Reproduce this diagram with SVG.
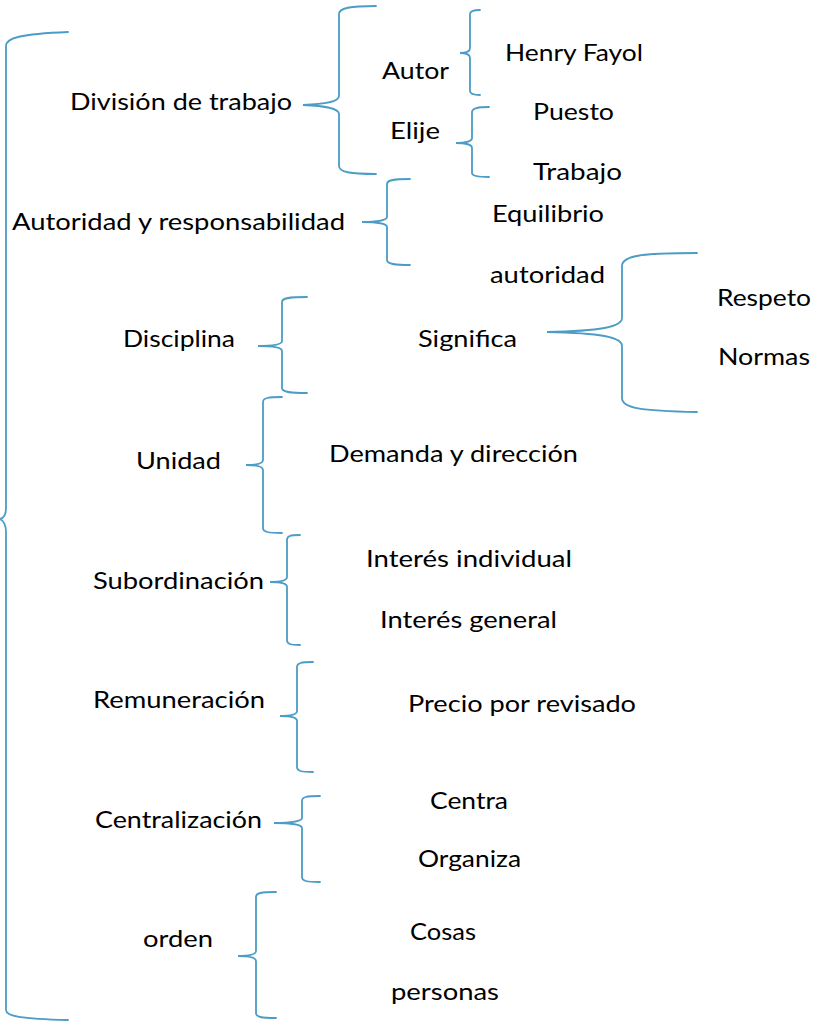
<svg xmlns="http://www.w3.org/2000/svg" width="827" height="1024" viewBox="0 0 827 1024">
<style>
.t{font-family:"Lato","Open Sans","Liberation Sans",sans-serif;font-size:24px;fill:#000}
.b{fill:none;stroke:#4B9CC6;stroke-width:1.8;stroke-linecap:round}
</style>
<rect width="827" height="1024" fill="#fff"/>
<g id="connectors">
<path class="b" d="M68,32 C20,34 6,38 6,46 L6,508 C6,515 4,518 0,519 C4,521 6,524 6,532 L6,1010 C6,1016 20,1019 68,1020"/>
<path class="b" d="M376,6 C350,6 339,8 339,14 L339,96 C339,102 325,104 303,105 C325,106 339,108 339,114 L339,166 C339,172 350,174 376,174"/>
<path class="b" d="M480,10 C473,10 470,11 470,14 L470,48 C470,51 467,53 460,53 C467,53 470,55 470,58 L470,91 C470,94 473,95 480,95"/>
<path class="b" d="M489,107 C478,107 472,108 472,112 L472,138 C472,141 466,143 456,143 C466,143 472,145 472,148 L472,173 C472,176 478,177 489,177"/>
<path class="b" d="M410,179 C394,179 387,180 387,184 L387,217 C387,220 378,222 362,222 C378,222 387,224 387,227 L387,260 C387,264 394,265 410,265"/>
<path class="b" d="M697,253 C640,253 622,256 622,266 L622,318 C622,327 600,331 547,332 C600,333 622,337 622,346 L622,398 C622,408 640,411 697,412"/>
<path class="b" d="M307,297 C289,297 282,298 282,302 L282,341 C282,344 274,346 258,346 C274,346 282,348 282,351 L282,388 C282,392 289,393 307,393"/>
<path class="b" d="M282,397 C268,397 263,398 263,402 L263,460 C263,463 257,465 246,465 C257,465 263,467 263,470 L263,528 C263,532 268,533 282,533"/>
<path class="b" d="M300,535 C290,535 287,536 287,540 L287,577 C287,580 281,582 270,582 C281,582 287,584 287,587 L287,640 C287,644 290,645 300,645"/>
<path class="b" d="M313,662 C301,662 297,663 297,667 L297,711 C297,714 291,716 280,716 C291,716 297,718 297,721 L297,767 C297,771 301,772 313,772"/>
<path class="b" d="M320,796 C306,796 302,797 302,801 L302,818 C302,821 292,823 274,823 C292,823 302,825 302,828 L302,877 C302,881 306,882 320,882"/>
<path class="b" d="M276,892 C261,892 256,893 256,897 L256,951 C256,954 250,956 238,956 C250,956 256,958 256,961 L256,1013 C256,1017 261,1018 276,1018"/>
</g>
<g id="n-division"><text class="t" x="70" y="110" textLength="222" lengthAdjust="spacingAndGlyphs">División de trabajo</text></g>
<g id="n-autor"><text class="t" x="382" y="79" textLength="67" lengthAdjust="spacingAndGlyphs">Autor</text></g>
<g id="n-henry"><text class="t" x="505" y="61" textLength="138" lengthAdjust="spacingAndGlyphs">Henry Fayol</text></g>
<g id="n-elije"><text class="t" x="390" y="139" textLength="50" lengthAdjust="spacingAndGlyphs">Elije</text></g>
<g id="n-puesto"><text class="t" x="533" y="120" textLength="81" lengthAdjust="spacingAndGlyphs">Puesto</text></g>
<g id="n-trabajo"><text class="t" x="533" y="180" textLength="89" lengthAdjust="spacingAndGlyphs">Trabajo</text></g>
<g id="n-autoridad"><text class="t" x="12" y="230" textLength="333" lengthAdjust="spacingAndGlyphs">Autoridad y responsabilidad</text></g>
<g id="n-equilibrio"><text class="t" x="492" y="222" textLength="112" lengthAdjust="spacingAndGlyphs">Equilibrio</text></g>
<g id="n-autoridad2"><text class="t" x="490" y="283" textLength="115" lengthAdjust="spacingAndGlyphs">autoridad</text></g>
<g id="n-respeto"><text class="t" x="717" y="306" textLength="94" lengthAdjust="spacingAndGlyphs">Respeto</text></g>
<g id="n-normas"><text class="t" x="718" y="365" textLength="92" lengthAdjust="spacingAndGlyphs">Normas</text></g>
<g id="n-significa"><text class="t" x="418" y="347" textLength="99" lengthAdjust="spacingAndGlyphs">Significa</text></g>
<g id="n-disciplina"><text class="t" x="123" y="347" textLength="112" lengthAdjust="spacingAndGlyphs">Disciplina</text></g>
<g id="n-unidad"><text class="t" x="136" y="469" textLength="85" lengthAdjust="spacingAndGlyphs">Unidad</text></g>
<g id="n-demanda"><text class="t" x="329" y="462" textLength="249" lengthAdjust="spacingAndGlyphs">Demanda y dirección</text></g>
<g id="n-subordinacion"><text class="t" x="93" y="589" textLength="171" lengthAdjust="spacingAndGlyphs">Subordinación</text></g>
<g id="n-individual"><text class="t" x="366" y="567" textLength="206" lengthAdjust="spacingAndGlyphs">Interés individual</text></g>
<g id="n-general"><text class="t" x="380" y="628" textLength="177" lengthAdjust="spacingAndGlyphs">Interés general</text></g>
<g id="n-remuneracion"><text class="t" x="93" y="708" textLength="172" lengthAdjust="spacingAndGlyphs">Remuneración</text></g>
<g id="n-precio"><text class="t" x="408" y="712" textLength="228" lengthAdjust="spacingAndGlyphs">Precio por revisado</text></g>
<g id="n-centralizacion"><text class="t" x="95" y="828" textLength="167" lengthAdjust="spacingAndGlyphs">Centralización</text></g>
<g id="n-centra"><text class="t" x="430" y="809" textLength="78" lengthAdjust="spacingAndGlyphs">Centra</text></g>
<g id="n-organiza"><text class="t" x="418" y="867" textLength="103" lengthAdjust="spacingAndGlyphs">Organiza</text></g>
<g id="n-orden"><text class="t" x="143" y="947" textLength="70" lengthAdjust="spacingAndGlyphs">orden</text></g>
<g id="n-cosas"><text class="t" x="410" y="940" textLength="66" lengthAdjust="spacingAndGlyphs">Cosas</text></g>
<g id="n-personas"><text class="t" x="391" y="1000" textLength="108" lengthAdjust="spacingAndGlyphs">personas</text></g>
</svg>
